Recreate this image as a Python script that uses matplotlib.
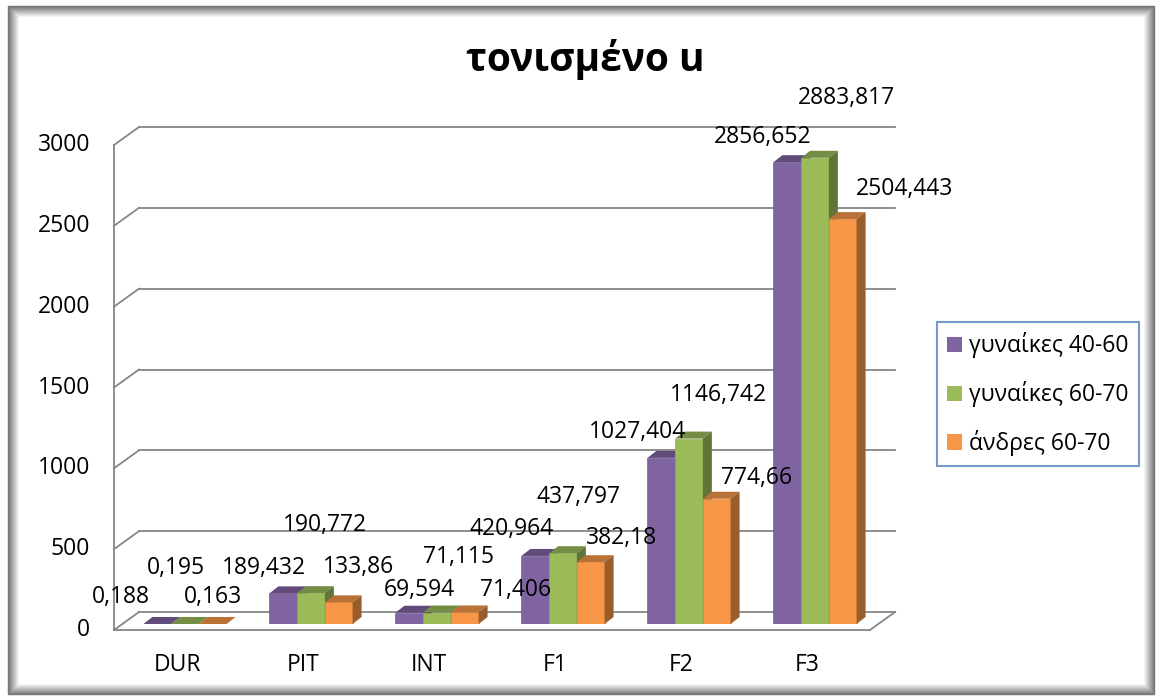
import matplotlib.pyplot as plt
import matplotlib.transforms as mtransforms
from matplotlib.patches import Polygon, Rectangle, Patch
from matplotlib.lines import Line2D
from matplotlib.colors import to_rgb

categories = ["DUR", "PIT", "INT", "F1", "F2", "F3"]
series_names = ["γυναίκες 40-60", "γυναίκες 60-70", "άνδρες 60-70"]
women_40_60 = [0.188, 189.432, 69.594, 420.964, 1027.404, 2856.652]
women_60_70 = [0.195, 190.772, 71.115, 437.797, 1146.742, 2883.817]
men_60_70 = [0.163, 133.86, 71.406, 382.18, 774.66, 2504.443]
yticks = [0, 500, 1000, 1500, 2000, 2500, 3000]

colors = ["#8064A2", "#9BBB59", "#F79646"]
grid_color = "#868686"

# where each value label sits relative to the top of its bar (pixels)
label_offsets = [
    [(-36, 27), (-19, 25), (10, 23), (-24, 27), (-24, 26), (-25, 25)],
    [(-9, 56), (14, 68), (22, 56), (16, 56), (29, 44), (31, 60)],
    [(0, 27), (20, 35), (51, 22), (31, 24), (40, 21), (62, 30)],
]

plt.rcParams['font.family'] = ['Open Sans', 'DejaVu Sans']
FS = 16.5

W, H = 1162, 700
fig = plt.figure(figsize=(W / 100, H / 100), dpi=100)
fig.patch.set_facecolor("white")
ident = mtransforms.IdentityTransform()

# shadowed outer frame
for k in range(12):
    g = min(1.0, 0.45 + k * 0.05)
    fig.add_artist(Rectangle((8 + k, 6 + k), W - 16 - 2 * k, H - 12 - 2 * k,
                             transform=ident, fill=False, edgecolor=(g, g, g),
                             linewidth=1.0))

# axes = plane of the bar fronts
ax = fig.add_axes([122 / W, 76 / H, 756 / W, 485 / H])
ax.set_xlim(-0.5, len(categories) - 0.5)
ax.set_ylim(0, 3000)
ax.axis("off")

FRONT = (-8, -6)
BACK = (17, 12)
DEPTH = (9, 7)


def disp(x, y, off=(0, 0)):
    px, py = ax.transData.transform((x, y))
    return px + off[0], py + off[1]


def shift(dx, dy):
    return ax.transData + mtransforms.ScaledTranslation(dx / 100, dy / 100, fig.dpi_scale_trans)


def seg(p, q):
    ax.add_line(Line2D([p[0], q[0]], [p[1], q[1]], transform=ident, color=grid_color,
                       linewidth=1.3, zorder=1, clip_on=False))


xl, xr = -0.5, len(categories) - 0.5
# walls and gridlines
for v in yticks:
    seg(disp(xl, v, FRONT), disp(xl, v, BACK))
    seg(disp(xl, v, BACK), disp(xr, v, BACK))
seg(disp(xl, 0, FRONT), disp(xl, yticks[-1], FRONT))
seg(disp(xl, 0, FRONT), disp(xr, 0, FRONT))
seg(disp(xr, 0, FRONT), disp(xr, 0, BACK))

# tick labels and category labels
for v in yticks:
    ax.text(xl, v, str(v), transform=shift(FRONT[0] - 24, FRONT[1]), ha="right",
            va="center", fontsize=FS)
for i, c in enumerate(categories):
    ax.text(i, 0, c, transform=shift(FRONT[0], FRONT[1] - 35), ha="center",
            va="center", fontsize=FS)


def shade(c, f):
    r, g, b = to_rgb(c)
    return (r * f, g * f, b * f)


bw = 0.22
series = [women_40_60, women_60_70, men_60_70]
for j, vals in enumerate(series):
    xs = [i - 1.5 * bw + j * bw for i in range(len(categories))]
    z = 3 + 2 * j
    ax.bar(xs, vals, width=bw, align="edge", color=colors[j], zorder=z,
           edgecolor=shade(colors[j], 0.95), linewidth=0.5)
    for k, (x0, h) in enumerate(zip(xs, vals)):
        x1 = x0 + bw
        a, b = disp(x0, h), disp(x1, h)
        c0 = disp(x1, 0)
        top = [a, b, (b[0] + DEPTH[0], b[1] + DEPTH[1]), (a[0] + DEPTH[0], a[1] + DEPTH[1])]
        side = [c0, b, (b[0] + DEPTH[0], b[1] + DEPTH[1]), (c0[0] + DEPTH[0], c0[1] + DEPTH[1])]
        ax.add_patch(Polygon(top, closed=True, transform=ident, facecolor=shade(colors[j], 0.75),
                             edgecolor="none", zorder=z + 0.5, clip_on=False))
        ax.add_patch(Polygon(side, closed=True, transform=ident, facecolor=shade(colors[j], 0.62),
                             edgecolor="none", zorder=z + 0.5, clip_on=False))
        ax.annotate(str(h).replace(".", ","), xy=(x0 + bw / 2, h), xytext=label_offsets[j][k],
                    textcoords="offset pixels", ha="center", va="center", fontsize=FS,
                    zorder=20)

fig.text(585 / W, 1 - 60 / H, "τονισμένο u", ha="center", va="center",
         fontsize=28, fontweight="bold")

handles = [Patch(facecolor=c, edgecolor="none") for c in colors]
leg = fig.legend(handles, series_names, loc="upper left", bbox_to_anchor=(937 / W, 1 - 322 / H),
                 borderaxespad=0, fontsize=FS, frameon=True, fancybox=False,
                 handlelength=0.65, handleheight=0.65, handletextpad=0.3,
                 labelspacing=1.0, borderpad=0.45)
leg.get_frame().set_edgecolor("#4F81BD")
leg.get_frame().set_linewidth(1.5)

fig.savefig("out.png", dpi=100)
